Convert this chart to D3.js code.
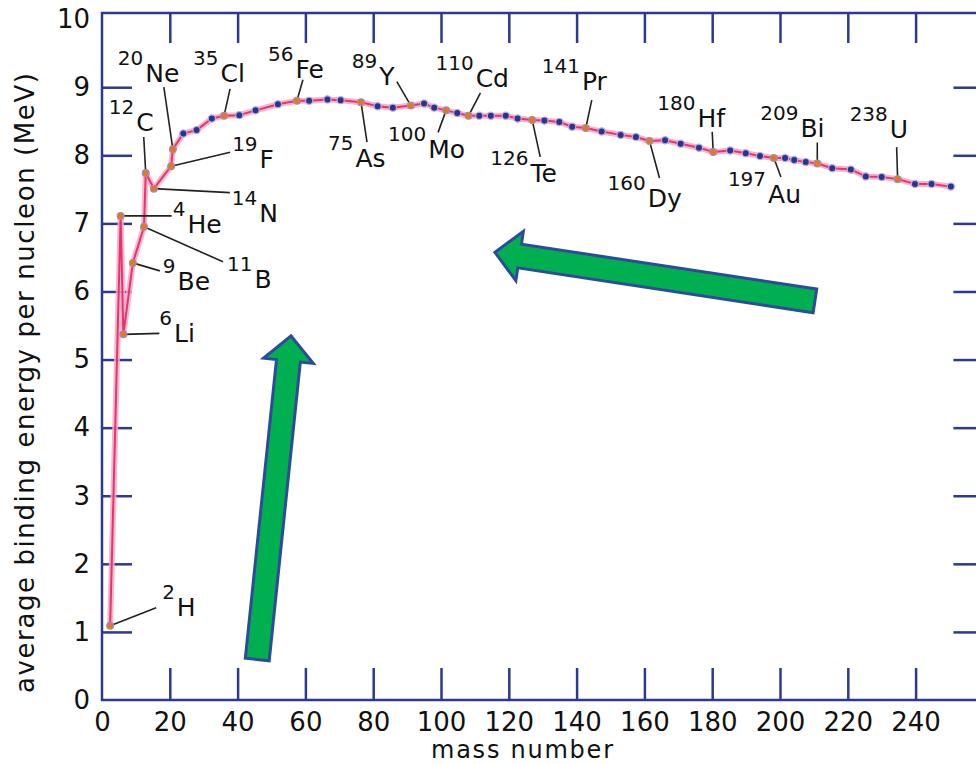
<!DOCTYPE html>
<html>
<head>
<meta charset="utf-8">
<script src="https://cdn.jsdelivr.net/npm/d3@7"></script>
<style>
  body { margin: 0; background: #fff; }
  svg { display: block; font-family: "DejaVu Sans", sans-serif; }
</style>
</head>
<body>
<div id="chart"></div>
<script>
// mass number (as plotted) and average binding energy per nucleon (MeV)
const massNumber = [2.4, 5.5, 6.3, 9.1, 12.4, 12.9, 15.3, 20.4, 20.9, 24.0,
  27.9, 32.4, 36.0, 40.5, 45.3, 51.9, 57.5, 61.1, 66.5, 70.4,
  76.4, 81.3, 85.8, 91.1, 95.0, 98.0, 101.5, 104.8, 108.1, 111.3,
  114.7, 119.1, 122.6, 126.9, 130.5, 134.9, 138.7, 142.7, 147.4, 153.0,
  157.5, 161.5, 166.1, 170.7, 176.1, 180.3, 185.3, 189.9, 194.1, 198.2,
  201.5, 204.2, 207.6, 211.0, 215.4, 220.9, 225.3, 230.0, 234.7, 239.8,
  244.7, 250.4];
const bindingEnergy = [1.09, 7.11, 5.37, 6.42, 6.95, 7.74, 7.51, 7.84, 8.09, 8.32,
  8.37, 8.54, 8.58, 8.59, 8.66, 8.75, 8.80, 8.80, 8.82, 8.81,
  8.78, 8.72, 8.70, 8.73, 8.76, 8.70, 8.66, 8.62, 8.58, 8.58,
  8.58, 8.58, 8.54, 8.52, 8.51, 8.49, 8.42, 8.40, 8.35, 8.30,
  8.27, 8.21, 8.22, 8.17, 8.11, 8.05, 8.07, 8.03, 7.99, 7.96,
  7.96, 7.93, 7.90, 7.88, 7.81, 7.79, 7.69, 7.68, 7.65, 7.58,
  7.58, 7.54];

// labelled nuclides (index into the arrays above)
const labelIndex = [0, 1, 2, 3, 4, 5, 6, 7, 8, 12, 16, 20, 23, 26, 28, 33, 37, 41, 45, 49, 53, 58];
const labelMass = ["2", "4", "6", "9", "11", "12", "14", "19", "20", "35", "56", "75", "89",
  "100", "110", "126", "141", "160", "180", "197", "209", "238"];
const labelSymbol = ["H", "He", "Li", "Be", "B", "C", "N", "F", "Ne", "Cl", "Fe", "As", "Y",
  "Mo", "Cd", "Te", "Pr", "Dy", "Hf", "Au", "Bi", "U"];

const xTickLabels = [0, 20, 40, 60, 80, 100, 120, 140, 160, 180, 200, 220, 240];
const yTickLabels = [0, 1, 2, 3, 4, 5, 6, 7, 8, 9, 10];

// big green arrows, tail -> tip in data units
const arrowTail = [[45.8, 0.595], [210.3, 5.861]];
const arrowTip = [[55.75, 5.347], [115.9, 6.576]];

// label layout: pixel offsets from the dot (leader end, text start / baseline)
const leaderOffset = [[46, -18], [51, 0], [36, -1], [27, 8], [79, 35], [-2, -36], [76, 4],
  [59, -14], [-9, -62], [6, -27], [6, -21], [6, 40], [-14, -24], [-8, 22], [12, -23],
  [8, 37], [6, -28], [10, 37], [-1, -20], [7, 19], [0, -21], [-1, -32]];
const labelOffset = [[52, -10], [52, 17], [36, 8], [30, 27], [83, 61], [-37, -42], [78, 33],
  [61, 2], [-55, -67], [-31, -34], [-29, -23], [-33, 65], [-59, -21], [-58, 48], [-33, -29],
  [-42, 62], [-44, -38], [-42, 66], [-56, -25], [-46, 45], [-57, -26], [-48, -41]];

const width = 976;
const height = 764;
const axisColor = "#2b3990";

const x = d3.scaleLinear().domain([0, 260]).range([102, 102 + 260 * 3.39]);
const y = d3.scaleLinear().domain([0, 10.09]).range([700, 13]);

const svg = d3.create("svg").attr("width", width).attr("height", height);

// frame
svg.append("rect")
  .attr("x", x(0)).attr("y", y(10.09))
  .attr("width", x(260) - x(0)).attr("height", y(0) - y(10.09))
  .attr("fill", "none").attr("stroke", axisColor).attr("stroke-width", 2.5);

function styleAxis(g) {
  g.select(".domain").remove();
  g.selectAll(".tick line").attr("stroke", axisColor).attr("stroke-width", 2.5);
  g.selectAll(".tick text").attr("fill", "#111").attr("font-size", 26)
    .attr("font-family", "DejaVu Sans, sans-serif");
}

// bottom axis
svg.append("g")
  .attr("transform", `translate(0,${y(0)})`)
  .call(d3.axisBottom(x).tickValues(xTickLabels).tickSizeInner(-32).tickSizeOuter(0).tickPadding(12.5))
  .call(styleAxis)
  .call(g => g.selectAll(".tick").filter(d => d === 0).select("line").remove());

// left axis
svg.append("g")
  .attr("transform", `translate(${x(0)},0)`)
  .call(d3.axisLeft(y).tickValues(yTickLabels).tickSizeInner(-30).tickSizeOuter(0).tickPadding(12))
  .call(styleAxis)
  .call(g => g.selectAll(".tick").filter(d => d === 0 || d === 10).select("line").remove());

// top and right ticks, no labels
svg.append("g")
  .attr("transform", `translate(0,${y(10.09)})`)
  .call(d3.axisTop(x).tickValues(xTickLabels.slice(1)).tickSizeInner(-30).tickSizeOuter(0).tickFormat(""))
  .call(styleAxis);
svg.append("g")
  .attr("transform", `translate(${x(260)},0)`)
  .call(d3.axisRight(y).tickValues(yTickLabels.slice(1, 10)).tickSizeInner(-30).tickSizeOuter(0).tickFormat(""))
  .call(styleAxis);

// axis titles
svg.append("text")
  .attr("x", 522).attr("y", 758)
  .attr("text-anchor", "middle").attr("font-size", 24).attr("fill", "#111")
  .attr("textLength", 182).attr("lengthAdjust", "spacing")
  .text("mass number");
svg.append("text")
  .attr("transform", "translate(34,383) rotate(-90)")
  .attr("text-anchor", "middle").attr("font-size", 26).attr("fill", "#111")
  .attr("textLength", 620).attr("lengthAdjust", "spacing")
  .text("average binding energy per nucleon (MeV)");

// arrows
function arrowPath(tail, tip, shaftW, headW, headL) {
  const [x0, y0] = [x(tail[0]), y(tail[1])];
  const [x1, y1] = [x(tip[0]), y(tip[1])];
  const len = Math.hypot(x1 - x0, y1 - y0);
  const ux = (x1 - x0) / len, uy = (y1 - y0) / len;
  const nx = -uy, ny = ux;
  const bx = x1 - ux * headL, by = y1 - uy * headL;
  const p = [
    [x0 + nx * shaftW / 2, y0 + ny * shaftW / 2],
    [bx + nx * shaftW / 2, by + ny * shaftW / 2],
    [bx + nx * headW / 2, by + ny * headW / 2],
    [x1, y1],
    [bx - nx * headW / 2, by - ny * headW / 2],
    [bx - nx * shaftW / 2, by - ny * shaftW / 2],
    [x0 - nx * shaftW / 2, y0 - ny * shaftW / 2]
  ];
  return "M" + p.map(d => d.join(",")).join("L") + "Z";
}
svg.append("g").selectAll("path")
  .data(arrowTail)
  .join("path")
  .attr("d", (d, i) => arrowPath(d, arrowTip[i], 24, 50, 25))
  .attr("fill", "#00b050").attr("stroke", "#2e4a9a")
  .attr("stroke-width", 3).attr("stroke-linejoin", "miter");

const points = massNumber.map((a, i) => ({ a: a, e: bindingEnergy[i] }));
const line = d3.line().x(d => x(d.a)).y(d => y(d.e));

// curve: soft halo then core
svg.append("path").datum(points).attr("d", line)
  .attr("fill", "none").attr("stroke", "#f6a9c4").attr("stroke-width", 6)
  .attr("stroke-linejoin", "round").attr("opacity", 0.85);
svg.append("path").datum(points).attr("d", line)
  .attr("fill", "none").attr("stroke", "#e8336f").attr("stroke-width", 2)
  .attr("stroke-linejoin", "round");

// leader lines
const labelled = labelIndex.map((k, i) => ({ p: points[k], i: i }));
svg.append("g").selectAll("line")
  .data(labelled)
  .join("line")
  .attr("x1", d => x(d.p.a)).attr("y1", d => y(d.p.e))
  .attr("x2", d => x(d.p.a) + leaderOffset[d.i][0])
  .attr("y2", d => y(d.p.e) + leaderOffset[d.i][1])
  .attr("stroke", "#222").attr("stroke-width", 1.6);

// dots
const labelSet = new Set(labelIndex);
svg.append("g").selectAll("circle")
  .data(points.filter((d, i) => !labelSet.has(i)))
  .join("circle")
  .attr("cx", d => x(d.a)).attr("cy", d => y(d.e)).attr("r", 3.6)
  .attr("fill", "#2e3192").attr("stroke", "#b3b3de").attr("stroke-width", 1.2);
svg.append("g").selectAll("circle")
  .data(labelled)
  .join("circle")
  .attr("cx", d => x(d.p.a)).attr("cy", d => y(d.p.e)).attr("r", 3.4)
  .attr("fill", "#e8761e").attr("stroke", "#9a90b8").attr("stroke-width", 1.2);

// nuclide labels
const labels = svg.append("g").selectAll("text")
  .data(labelled)
  .join("text")
  .attr("x", d => x(d.p.a) + labelOffset[d.i][0])
  .attr("y", d => y(d.p.e) + labelOffset[d.i][1])
  .attr("fill", "#111");
labels.append("tspan")
  .attr("font-size", 20).attr("dy", -17)
  .text(d => labelMass[d.i]);
labels.append("tspan")
  .attr("font-size", 25).attr("dy", 17).attr("dx", 2)
  .text(d => labelSymbol[d.i]);

document.getElementById("chart").appendChild(svg.node());
</script>
</body>
</html>
